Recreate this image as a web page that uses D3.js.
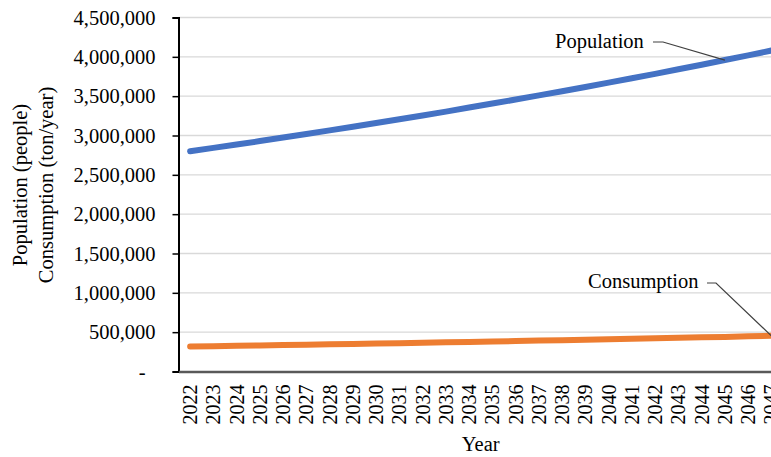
<!DOCTYPE html>
<html>
<head>
<meta charset="utf-8">
<script src="https://cdn.jsdelivr.net/npm/d3@7"></script>
<style>
  body { margin: 0; background: #fff; overflow: hidden; }
  svg { display: block; font-family: "Liberation Serif", "Times New Roman", serif; }
</style>
</head>
<body>
<svg id="chart"></svg>
<script>
// values
var years = ["2022","2023","2024","2025","2026","2027","2028","2029","2030","2031","2032","2033","2034",
             "2035","2036","2037","2038","2039","2040","2041","2042","2043","2044","2045","2046","2047"];
var population = [2800000,2843000,2885000,2929000,2974000,3019000,3065000,3111000,3158000,3206000,
                  3255000,3304000,3355000,3406000,3457000,3510000,3563000,3617000,3672000,3728000,
                  3784000,3842000,3900000,3959000,4019000,4080000];
var consumption = [317000,322000,326000,331000,336000,340000,345000,350000,355000,360000,366000,371000,
                   376000,382000,387000,393000,398000,404000,410000,416000,422000,428000,434000,440000,
                   447000,453000];
var yTicks = [0,500000,1000000,1500000,2000000,2500000,3000000,3500000,4000000,4500000];

var width = 771, height = 457;
var margin = { top: 17.5, left: 178.5, bottom: 85.5 };
var bandW = 23.25;
var plotRight = margin.left + years.length * bandW;   // runs past the window edge, like the reference
var serif = '"Liberation Serif", "Times New Roman", serif';

var svg = d3.select("#chart").attr("width", width).attr("height", height);

var x = d3.scaleBand().domain(years).range([margin.left, plotRight]);
var y = d3.scaleLinear().domain([0, 4500000]).range([height - margin.bottom, margin.top]);

// gridlines
svg.append("g")
   .selectAll("line")
   .data(yTicks.slice(1))
   .enter()
   .append("line")
   .attr("x1", margin.left).attr("x2", plotRight)
   .attr("y1", function(d) { return y(d); }).attr("y2", function(d) { return y(d); })
   .attr("stroke", "#d9d9d9").attr("stroke-width", 1.3);

// y axis
var fmt = d3.format(",");
var yAxis = svg.append("g")
   .attr("transform", "translate(" + margin.left + ",0)")
   .call(d3.axisLeft(y).tickValues(yTicks).tickSize(6).tickPadding(17)
           .tickFormat(function(d) { return d === 0 ? "-" : fmt(d); }))
   .attr("font-family", serif);
yAxis.select(".domain").attr("stroke", "#000").attr("stroke-width", 2);
yAxis.selectAll(".tick line").attr("stroke", "#000").attr("stroke-width", 1.5);
yAxis.selectAll(".tick text")
     .attr("fill", "#000").style("font-size", "20.5px")
     .attr("dx", function(d) { return d === 0 ? -10 : 0; });

// x axis
var xAxis = svg.append("g")
   .attr("transform", "translate(0," + y(0) + ")")
   .call(d3.axisBottom(x).tickSize(0))
   .attr("font-family", serif);
xAxis.select(".domain").attr("stroke", "#595959").attr("stroke-width", 2.5);
xAxis.selectAll(".tick text")
     .attr("fill", "#000").style("font-size", "20px")
     .attr("transform", "rotate(-90)")
     .attr("x", -13).attr("y", 0).attr("dy", "0.35em")
     .attr("text-anchor", "end");

// lines
var line = d3.line()
   .x(function(d, i) { return x(years[i]) + x.bandwidth() / 2; })
   .y(function(d) { return y(d); });

svg.append("path")
   .datum(consumption)
   .attr("fill", "none").attr("stroke", "#ED7D31").attr("stroke-width", 6)
   .attr("stroke-linecap", "round").attr("stroke-linejoin", "round")
   .attr("d", line);

svg.append("path")
   .datum(population)
   .attr("fill", "none").attr("stroke", "#4472C4").attr("stroke-width", 6)
   .attr("stroke-linecap", "round").attr("stroke-linejoin", "round")
   .attr("d", line);

// data labels with leader lines
function cx(i) { return x(years[i]) + x.bandwidth() / 2; }

svg.append("text")
   .attr("x", 555).attr("y", 48)
   .style("font-size", "20.5px").attr("fill", "#000")
   .text("Population");
svg.append("path")
   .attr("fill", "none").attr("stroke", "#404040").attr("stroke-width", 1.2)
   .attr("d", "M653,42 L663,42 L" + cx(23) + "," + y(population[23]));

svg.append("text")
   .attr("x", 588).attr("y", 288)
   .style("font-size", "20.5px").attr("fill", "#000")
   .text("Consumption");
svg.append("path")
   .attr("fill", "none").attr("stroke", "#404040").attr("stroke-width", 1.2)
   .attr("d", "M707,283 L716,283 L" + cx(25) + "," + y(consumption[25]));

// axis titles
var yTitle = svg.append("text")
   .attr("transform", "translate(0," + 185 + ") rotate(-90)")
   .attr("text-anchor", "middle")
   .style("font-size", "20.5px").attr("fill", "#000");
yTitle.append("tspan").attr("x", 0).attr("y", 27).text("Population (people)");
yTitle.append("tspan").attr("x", 0).attr("y", 53).text("Consumption (ton/year)");

svg.append("text")
   .attr("x", (margin.left + plotRight) / 2).attr("y", 451)
   .attr("text-anchor", "middle")
   .style("font-size", "20.5px").attr("fill", "#000")
   .text("Year");
</script>
</body>
</html>
